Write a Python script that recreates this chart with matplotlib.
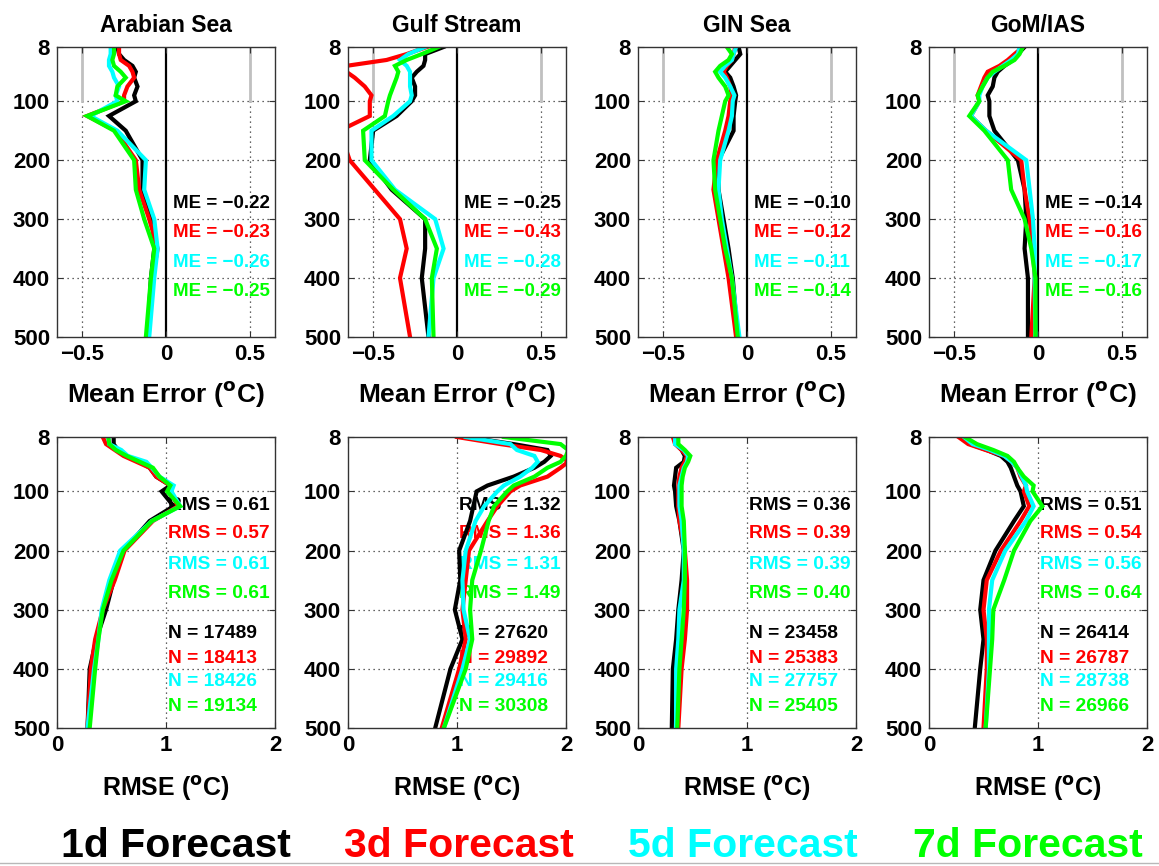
import matplotlib
matplotlib.use("Agg")
import matplotlib.pyplot as plt
from matplotlib.lines import Line2D
import matplotlib.transforms as mtransforms

plt.rcParams['font.family'] = ['Liberation Sans', 'DejaVu Sans']
plt.rcParams['font.weight'] = 'bold'

# Depth levels (m)
depths = [8, 20, 30, 40, 50, 60, 75, 90, 100, 125, 150, 200, 250, 300, 350, 400, 500]

regions = ["Arabian Sea", "Gulf Stream", "GIN Sea", "GoM/IAS"]
forecasts = ["1d Forecast", "3d Forecast", "5d Forecast", "7d Forecast"]
colors = ["#000000", "#ff0000", "#00ffff", "#00ff00"]

# Mean error profiles (degC): rows are 1d, 3d, 5d, 7d forecasts
me_arabian = [
    [-0.29, -0.28, -0.25, -0.20, -0.18, -0.19, -0.17, -0.19, -0.18, -0.34, -0.24, -0.14, -0.14, -0.08, -0.07, -0.09, -0.11],
    [-0.28, -0.28, -0.27, -0.22, -0.20, -0.19, -0.23, -0.25, -0.25, -0.47, -0.30, -0.18, -0.16, -0.10, -0.05, -0.08, -0.11],
    [-0.33, -0.33, -0.34, -0.34, -0.32, -0.31, -0.28, -0.30, -0.29, -0.45, -0.29, -0.12, -0.13, -0.07, -0.05, -0.07, -0.10],
    [-0.31, -0.31, -0.32, -0.31, -0.27, -0.24, -0.29, -0.30, -0.24, -0.47, -0.31, -0.19, -0.18, -0.13, -0.07, -0.09, -0.12],
]
me_gulf = [
    [-0.08, -0.19, -0.19, -0.20, -0.24, -0.27, -0.25, -0.25, -0.27, -0.36, -0.50, -0.52, -0.39, -0.19, -0.19, -0.21, -0.17],
    [-0.18, -0.30, -0.42, -0.66, -0.66, -0.61, -0.55, -0.51, -0.52, -0.52, -0.70, -0.64, -0.49, -0.34, -0.30, -0.34, -0.28],
    [-0.19, -0.29, -0.34, -0.30, -0.28, -0.28, -0.28, -0.27, -0.28, -0.38, -0.51, -0.51, -0.37, -0.13, -0.08, -0.14, -0.17],
    [-0.11, -0.21, -0.30, -0.37, -0.35, -0.36, -0.38, -0.40, -0.41, -0.43, -0.56, -0.55, -0.38, -0.19, -0.12, -0.15, -0.14],
]
me_gin = [
    [-0.05, -0.04, -0.07, -0.10, -0.13, -0.10, -0.08, -0.065, -0.07, -0.08, -0.08, -0.17, -0.17, -0.14, -0.11, -0.085, -0.055],
    [-0.07, -0.08, -0.09, -0.12, -0.14, -0.12, -0.10, -0.09, -0.10, -0.11, -0.13, -0.18, -0.20, -0.17, -0.14, -0.11, -0.065],
    [-0.065, -0.08, -0.09, -0.13, -0.16, -0.13, -0.10, -0.075, -0.085, -0.09, -0.11, -0.16, -0.17, -0.15, -0.12, -0.09, -0.045],
    [-0.12, -0.09, -0.11, -0.16, -0.19, -0.17, -0.13, -0.11, -0.13, -0.15, -0.17, -0.20, -0.19, -0.16, -0.13, -0.09, -0.055],
]
me_gom = [
    [-0.08, -0.12, -0.15, -0.20, -0.24, -0.26, -0.27, -0.30, -0.29, -0.29, -0.26, -0.12, -0.08, -0.07, -0.08, -0.06, -0.06],
    [-0.09, -0.14, -0.18, -0.23, -0.30, -0.32, -0.34, -0.36, -0.35, -0.40, -0.31, -0.10, -0.08, -0.05, -0.03, -0.02, -0.04],
    [-0.11, -0.12, -0.16, -0.21, -0.26, -0.30, -0.33, -0.35, -0.35, -0.40, -0.31, -0.07, -0.05, -0.03, -0.02, -0.02, -0.015],
    [-0.09, -0.11, -0.14, -0.20, -0.27, -0.30, -0.33, -0.36, -0.35, -0.41, -0.32, -0.18, -0.16, -0.08, -0.04, -0.015, -0.015],
]

# RMSE profiles (degC)
rmse_arabian = [
    [0.52, 0.52, 0.56, 0.64, 0.76, 0.85, 0.91, 1.04, 0.96, 1.07, 0.85, 0.61, 0.52, 0.45, 0.36, 0.30, 0.28],
    [0.42, 0.45, 0.53, 0.61, 0.73, 0.85, 0.91, 1.04, 1.04, 1.11, 0.88, 0.62, 0.53, 0.42, 0.35, 0.31, 0.28],
    [0.47, 0.48, 0.59, 0.65, 0.82, 0.87, 0.94, 1.07, 1.05, 1.13, 0.87, 0.58, 0.48, 0.41, 0.38, 0.34, 0.28],
    [0.47, 0.48, 0.54, 0.64, 0.76, 0.88, 0.94, 1.04, 1.01, 1.13, 0.87, 0.61, 0.50, 0.42, 0.38, 0.35, 0.30],
]
rmse_gulf = [
    [1.09, 1.52, 1.83, 1.86, 1.80, 1.71, 1.52, 1.28, 1.18, 1.15, 1.12, 1.02, 1.03, 0.98, 1.05, 0.94, 0.80],
    [1.00, 1.40, 1.77, 1.95, 2.02, 1.95, 1.83, 1.58, 1.49, 1.37, 1.28, 1.11, 1.08, 1.05, 1.08, 1.02, 0.86],
    [1.08, 1.49, 1.55, 1.71, 1.74, 1.69, 1.58, 1.43, 1.37, 1.25, 1.17, 1.08, 1.05, 1.06, 1.12, 1.05, 0.88],
    [1.43, 1.95, 2.02, 2.00, 1.95, 1.83, 1.71, 1.52, 1.46, 1.34, 1.29, 1.22, 1.14, 1.12, 1.14, 1.08, 0.88],
]
rmse_gin = [
    [0.35, 0.35, 0.40, 0.43, 0.42, 0.35, 0.34, 0.33, 0.34, 0.35, 0.38, 0.42, 0.40, 0.37, 0.35, 0.32, 0.31],
    [0.32, 0.34, 0.40, 0.45, 0.43, 0.40, 0.38, 0.37, 0.37, 0.37, 0.38, 0.43, 0.45, 0.45, 0.43, 0.40, 0.37],
    [0.34, 0.34, 0.42, 0.46, 0.45, 0.42, 0.40, 0.38, 0.38, 0.38, 0.40, 0.42, 0.42, 0.38, 0.37, 0.35, 0.35],
    [0.37, 0.37, 0.43, 0.48, 0.46, 0.43, 0.41, 0.40, 0.40, 0.40, 0.42, 0.43, 0.43, 0.42, 0.40, 0.38, 0.36],
]
rmse_gom = [
    [0.29, 0.38, 0.53, 0.66, 0.72, 0.75, 0.78, 0.81, 0.84, 0.87, 0.78, 0.61, 0.50, 0.47, 0.50, 0.47, 0.42],
    [0.27, 0.36, 0.52, 0.69, 0.76, 0.81, 0.84, 0.89, 0.87, 0.92, 0.84, 0.66, 0.53, 0.50, 0.53, 0.53, 0.50],
    [0.32, 0.40, 0.56, 0.69, 0.76, 0.81, 0.85, 0.89, 0.90, 0.96, 0.89, 0.70, 0.58, 0.55, 0.55, 0.55, 0.52],
    [0.33, 0.44, 0.59, 0.72, 0.78, 0.81, 0.87, 0.96, 0.95, 1.04, 0.93, 0.78, 0.69, 0.59, 0.58, 0.56, 0.52],
]

# Column-averaged statistics and observation counts
me_totals = [[-0.22, -0.23, -0.26, -0.25], [-0.25, -0.43, -0.28, -0.29],
             [-0.10, -0.12, -0.11, -0.14], [-0.14, -0.16, -0.17, -0.16]]
rms_totals = [[0.61, 0.57, 0.61, 0.61], [1.32, 1.36, 1.31, 1.49],
              [0.36, 0.39, 0.39, 0.40], [0.51, 0.54, 0.56, 0.64]]
n_obs = [[17489, 18413, 18426, 19134], [27620, 29892, 29416, 30308],
         [23458, 25383, 27757, 25405], [26414, 26787, 28738, 26966]]

me_profiles = [me_arabian, me_gulf, me_gin, me_gom]
rmse_profiles = [rmse_arabian, rmse_gulf, rmse_gin, rmse_gom]

yticks = [8, 100, 200, 300, 400, 500]
me_text_depths = [273, 322, 373, 422]
rms_text_depths = [123, 172, 223, 272]
n_text_depths = [341, 382, 422, 463]

W, H = 1159, 866
fig = plt.figure(figsize=(W / 100, H / 100), dpi=100)

lefts = [57, 348, 638, 929]
ax_w = 218


def style_axes(ax, xlim, xticks, xticklabels):
    ax.set_ylim(500, 8)
    ax.set_xlim(*xlim)
    ax.set_yticks(yticks)
    ax.set_xticks(xticks)
    ax.set_xticklabels(xticklabels)
    ax.tick_params(direction='in', length=4, width=0.8, top=True, right=True,
                   labelsize=16, pad=5, color='#333333')
    for lab in ax.get_xticklabels() + ax.get_yticklabels():
        lab.set_fontweight('bold')
    for sp in ax.spines.values():
        sp.set_linewidth(1.0)
        sp.set_color('#333333')
    for y in [100, 200, 300, 400]:
        ax.axhline(y, color='#333333', lw=0.9, ls=(0, (1, 3)), zorder=0.5)


for i in range(4):
    # Mean error panel
    ax = fig.add_axes([lefts[i] / W, 1 - 337 / H, ax_w / W, 290 / H])
    style_axes(ax, (-0.65, 0.65), [-0.5, 0, 0.5], ['\u22120.5', '0', '0.5'])
    for xv in (-0.5, 0.5):
        ax.plot([xv, xv], [100, 500], color='#333333', lw=0.9, ls=(0, (1, 3)), zorder=0.5)
        ax.plot([xv, xv], [8, 100], color='#c0c0c0', lw=2.0, zorder=0.6)
    ax.axvline(0, color='black', lw=1.6, zorder=1.5)
    for k in range(4):
        ax.plot(me_profiles[i][k], depths, color=colors[k], lw=3.0, zorder=2 + k * 0.1,
                solid_joinstyle='miter')
    trans = mtransforms.blended_transform_factory(ax.transAxes, ax.transData)
    for k in range(4):
        ax.text(0.53, me_text_depths[k], f"ME = {me_totals[i][k]:.2f}".replace('-', '\u2212'),
                transform=trans, color=colors[k], fontsize=13.5, fontweight='bold',
                va='center', ha='left', zorder=1)
    ax.set_title(regions[i], fontsize=16.5, fontweight='bold', pad=11)
    ax.set_xlabel('Mean Error ($\\mathbf{^{o}}$C)', fontsize=19, fontweight='bold', labelpad=10)

    # RMSE panel
    ax2 = fig.add_axes([lefts[i] / W, 1 - 728 / H, ax_w / W, 291 / H])
    style_axes(ax2, (0, 2), [0, 1, 2], ['0', '1', '2'])
    ax2.plot([1, 1], [8, 500], color='#333333', lw=0.9, ls=(0, (1, 3)), zorder=0.5)
    for k in range(4):
        ax2.plot(rmse_profiles[i][k], depths, color=colors[k], lw=3.0, zorder=2 + k * 0.1,
                 solid_joinstyle='miter')
    trans2 = mtransforms.blended_transform_factory(ax2.transAxes, ax2.transData)
    for k in range(4):
        ax2.text(0.51, rms_text_depths[k], f"RMS = {rms_totals[i][k]:.2f}",
                 transform=trans2, color=colors[k], fontsize=13.8, fontweight='bold',
                 va='center', ha='left', zorder=1)
        ax2.text(0.51, n_text_depths[k], f"N = {n_obs[i][k]}",
                 transform=trans2, color=colors[k], fontsize=13.8, fontweight='bold',
                 va='center', ha='left', zorder=1)
    ax2.set_xlabel('RMSE ($\\mathbf{^{o}}$C)', fontsize=18, fontweight='bold', labelpad=13)

# Forecast-lead legend row
legend_centers = [176, 459, 743, 1028]
for k in range(4):
    fig.text(legend_centers[k] / W, 1 - 846 / H, forecasts[k], color=colors[k],
             fontsize=29.5, fontweight='bold', ha='center', va='center')

fig.add_artist(Line2D([0, 1], [1 - 863 / H, 1 - 863 / H], color='#b8b8b8', lw=1.0))

fig.savefig('out.png', dpi=100)
